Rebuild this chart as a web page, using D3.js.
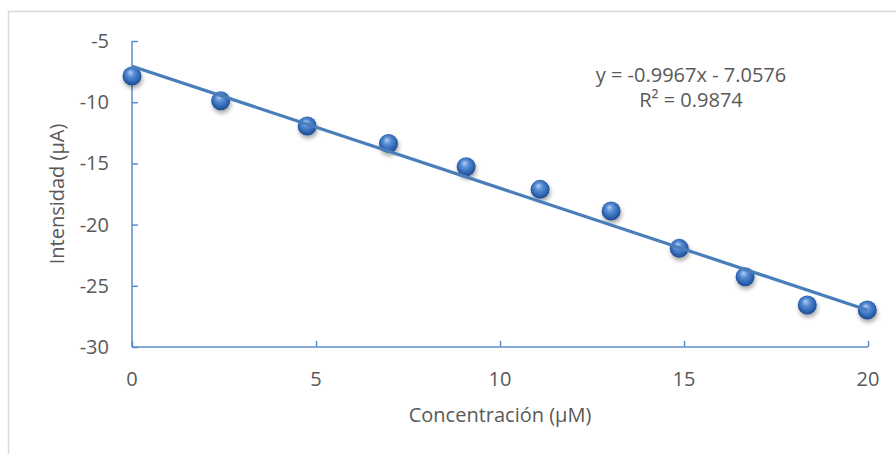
<!DOCTYPE html>
<html>
<head>
<meta charset="utf-8">
<script src="https://cdn.jsdelivr.net/npm/d3@7"></script>
<style>
  body { margin: 0; background: #fff; }
  svg text { font-family: "Open Sans", "Noto Sans", sans-serif; fill: #595959; }
</style>
</head>
<body>
<div id="chart"></div>
<script>
// values
var concentracion = [0, 2.41, 4.76, 6.97, 9.08, 11.09, 13.02, 14.87, 16.66, 18.35, 19.98];
var intensidad = [-7.86, -9.88, -11.94, -13.38, -15.27, -17.12, -18.89, -21.94, -24.26, -26.57, -26.98];
var xTicks = [0, 5, 10, 15, 20];
var yTicks = [-5, -10, -15, -20, -25, -30];
var slope = -0.9967;
var intercept = -7.0576;
var eqLabel = "y = -0.9967x - 7.0576";
var r2Label = "R² = 0.9874";

function start(){
    var width = 896, height = 454;
    var fontSize = "20px";
    var svg = d3.select("#chart").append("svg")
        .attr("width", width)
        .attr("height", height);

    // chart border (only left/top visible in the picture)
    svg.append("rect")
        .attr("x", 8.5).attr("y", 11.5)
        .attr("width", 920).attr("height", 460)
        .attr("fill", "none")
        .attr("stroke", "#d9d9d9")
        .attr("stroke-width", 1.5);

    var xScale = d3.scaleLinear().domain([0, 20]).range([132, 868]);
    var yScale = d3.scaleLinear().domain([-5, -30]).range([41, 347]);

    var defs = svg.append("defs");
    var grad = defs.append("radialGradient")
        .attr("id", "ball")
        .attr("cx", "50%").attr("cy", "45%").attr("r", "55%")
        .attr("fx", "40%").attr("fy", "30%");
    grad.append("stop").attr("offset", "0%").attr("stop-color", "#b5d0f2");
    grad.append("stop").attr("offset", "35%").attr("stop-color", "#5b90d6");
    grad.append("stop").attr("offset", "75%").attr("stop-color", "#2f66b2");
    grad.append("stop").attr("offset", "100%").attr("stop-color", "#1d4a8c");

    var shadow = defs.append("filter")
        .attr("id", "shadow")
        .attr("x", "-50%").attr("y", "-50%")
        .attr("width", "200%").attr("height", "200%");
    shadow.append("feDropShadow")
        .attr("dx", 1).attr("dy", 3)
        .attr("stdDeviation", 2)
        .attr("flood-color", "#000")
        .attr("flood-opacity", 0.35);

    var axisColor = "#5b8ccb";

    // y axis
    var yAxis = svg.append("g")
        .attr("transform", "translate(" + xScale(0) + ",0)")
        .call(d3.axisRight(yScale).tickValues(yTicks).tickSize(6).tickFormat(""));
    yAxis.select(".domain").attr("stroke", axisColor).attr("stroke-width", 1.5)
        .attr("d", "M0," + yScale(-5) + "V" + yScale(-30));
    yAxis.selectAll(".tick line").attr("stroke", axisColor).attr("stroke-width", 1.5);

    // x axis
    var xAxis = svg.append("g")
        .attr("transform", "translate(0," + yScale(-30) + ")")
        .call(d3.axisTop(xScale).tickValues(xTicks).tickSize(6).tickFormat(""));
    xAxis.select(".domain").attr("stroke", axisColor).attr("stroke-width", 1.5)
        .attr("d", "M" + xScale(0) + ",0H" + xScale(20));
    xAxis.selectAll(".tick line").attr("stroke", axisColor).attr("stroke-width", 1.5);

    // tick labels
    svg.selectAll(".ylab").data(yTicks).enter().append("text")
        .attr("x", 109)
        .attr("y", function(d){ return yScale(d); })
        .attr("dy", "0.35em")
        .attr("text-anchor", "end")
        .style("font-size", fontSize)
        .text(function(d){ return d; });

    svg.selectAll(".xlab").data(xTicks).enter().append("text")
        .attr("x", function(d){ return xScale(d); })
        .attr("y", 379)
        .attr("dy", "0.35em")
        .attr("text-anchor", "middle")
        .style("font-size", fontSize)
        .text(function(d){ return d; });

    // axis titles
    svg.append("text")
        .attr("x", 500).attr("y", 415)
        .attr("dy", "0.35em")
        .attr("text-anchor", "middle")
        .style("font-size", fontSize)
        .text("Concentración (µM)");

    svg.append("text")
        .attr("transform", "translate(57," + 194 + ") rotate(-90)")
        .attr("dy", "0.35em")
        .attr("text-anchor", "middle")
        .style("font-size", fontSize)
        .text("Intensidad (µA)");

    // points
    var data = concentracion.map(function(c, i){ return {x: c, y: intensidad[i]}; });
    svg.selectAll(".pt").data(data).enter().append("circle")
        .attr("cx", function(d){ return xScale(d.x); })
        .attr("cy", function(d){ return yScale(d.y); })
        .attr("r", 9.5)
        .attr("fill", "url(#ball)")
        .attr("filter", "url(#shadow)");

    // trend line
    var x0 = 0, x1 = d3.max(concentracion);
    svg.append("line")
        .attr("x1", xScale(x0))
        .attr("y1", yScale(slope * x0 + intercept))
        .attr("x2", xScale(x1))
        .attr("y2", yScale(slope * x1 + intercept))
        .attr("stroke", "#4a7ebb")
        .attr("stroke-width", 3.2);

    // equation
    svg.append("text")
        .attr("x", 691).attr("y", 82)
        .attr("text-anchor", "middle")
        .style("font-size", fontSize)
        .text(eqLabel);
    svg.append("text")
        .attr("x", 691).attr("y", 107)
        .attr("text-anchor", "middle")
        .style("font-size", fontSize)
        .text(r2Label);
}

start();
</script>
</body>
</html>
